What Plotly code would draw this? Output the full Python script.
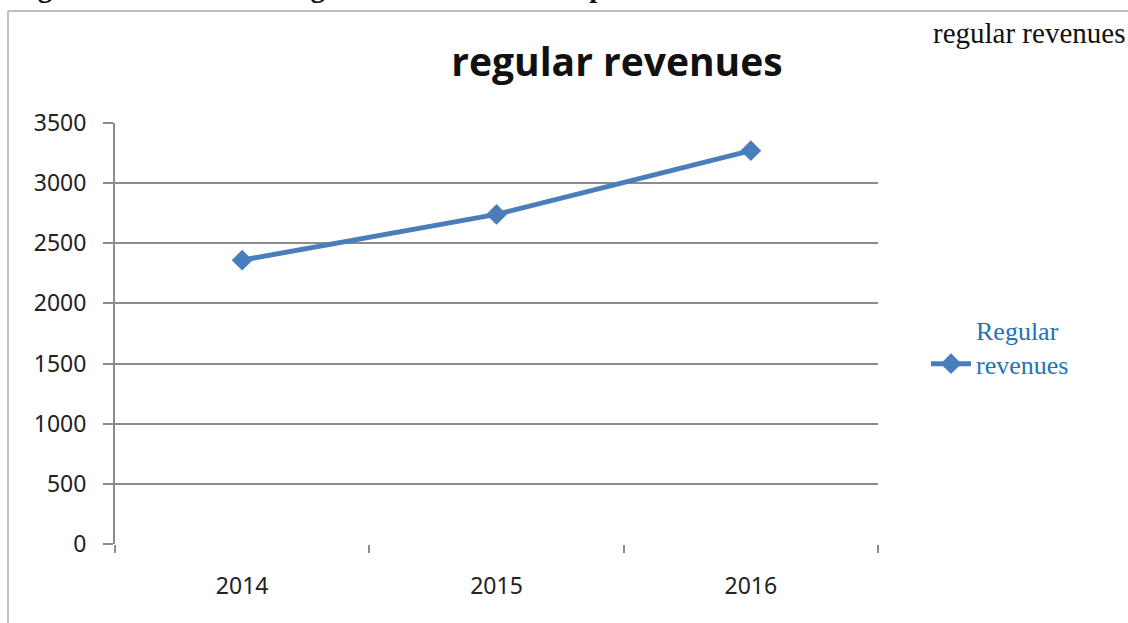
import plotly.graph_objects as go

years = ["2014", "2015", "2016"]
revenues = [2360, 2740, 3270]
y_ticks = [0, 500, 1000, 1500, 2000, 2500, 3000, 3500]

W, H = 1128, 623
L, R, T, B = 115, 250, 123, 79
pw, ph = W - L - R, H - T - B

def px(x):
    return (x - L) / pw

def py(y):
    return (H - B - y) / ph

fig = go.Figure()
fig.add_trace(go.Scatter(
    x=years, y=revenues, mode="lines+markers",
    name="Regular<br>revenues",
    line=dict(color="#4A7EBB", width=5),
    marker=dict(symbol="diamond", size=16, color="#4A7EBB"),
))

fig.update_layout(
    width=W, height=H,
    margin=dict(l=L, r=R, t=T, b=B),
    paper_bgcolor="white", plot_bgcolor="white",
    showlegend=True,
    legend=dict(x=px(926), y=py(347), xanchor="left", yanchor="middle",
                valign="bottom",
                font=dict(family="Liberation Serif", size=26, color="#1F72BE"),
                itemwidth=40, bgcolor="rgba(0,0,0,0)"),
    xaxis=dict(type="category", range=[-0.5, 2.5], tickson="boundaries",
               ticks="outside", ticklen=8, tickwidth=2, tickcolor="#8C8C8C",
               showgrid=False, showline=False, zeroline=False,
               ticklabelstandoff=26,
               tickfont=dict(family="Noto Sans", size=23, color="#222222")),
    yaxis=dict(range=[0, 3500], tickvals=y_ticks, ticks="outside", ticklen=10,
               tickwidth=2, tickcolor="#8C8C8C",
               showgrid=True, gridcolor="#8C8C8C", gridwidth=2,
               showline=True, linecolor="#8C8C8C", linewidth=2,
               zeroline=False, ticklabelstandoff=12,
               tickfont=dict(family="Noto Sans", size=23, color="#222222")),
    title=dict(text="<b>regular revenues</b>", xref="container", x=617 / W,
               xanchor="center", y=1 - 62 / H, yanchor="middle",
               font=dict(family="Open Sans", size=39, color="#111111")),
)

# outer frame lines
fig.add_shape(type="line", xref="paper", yref="paper",
              x0=px(8), x1=px(W + 5), y0=py(11), y1=py(11),
              line=dict(color="#BFBFBF", width=2))
fig.add_shape(type="line", xref="paper", yref="paper",
              x0=px(8), x1=px(8), y0=py(11), y1=py(H + 5),
              line=dict(color="#BFBFBF", width=2))

fig.add_annotation(xref="paper", yref="paper", x=px(931), y=py(33),
                   xanchor="left", yanchor="middle", showarrow=False,
                   text="regular revenues",
                   font=dict(family="Liberation Serif", size=29, color="#111111"))

fig.add_annotation(xref="paper", yref="paper", x=px(10), y=py(5),
                   xanchor="left", yanchor="bottom", showarrow=False,
                   text="<b>Figure 4: evolution of regular revenues for the period 2014-2016</b>",
                   font=dict(family="Liberation Serif", size=29, color="#111111"))

fig.write_html("out.html", config={"displayModeBar": False},
               post_script="document.body.style.margin='0';document.body.style.overflow='hidden';")
